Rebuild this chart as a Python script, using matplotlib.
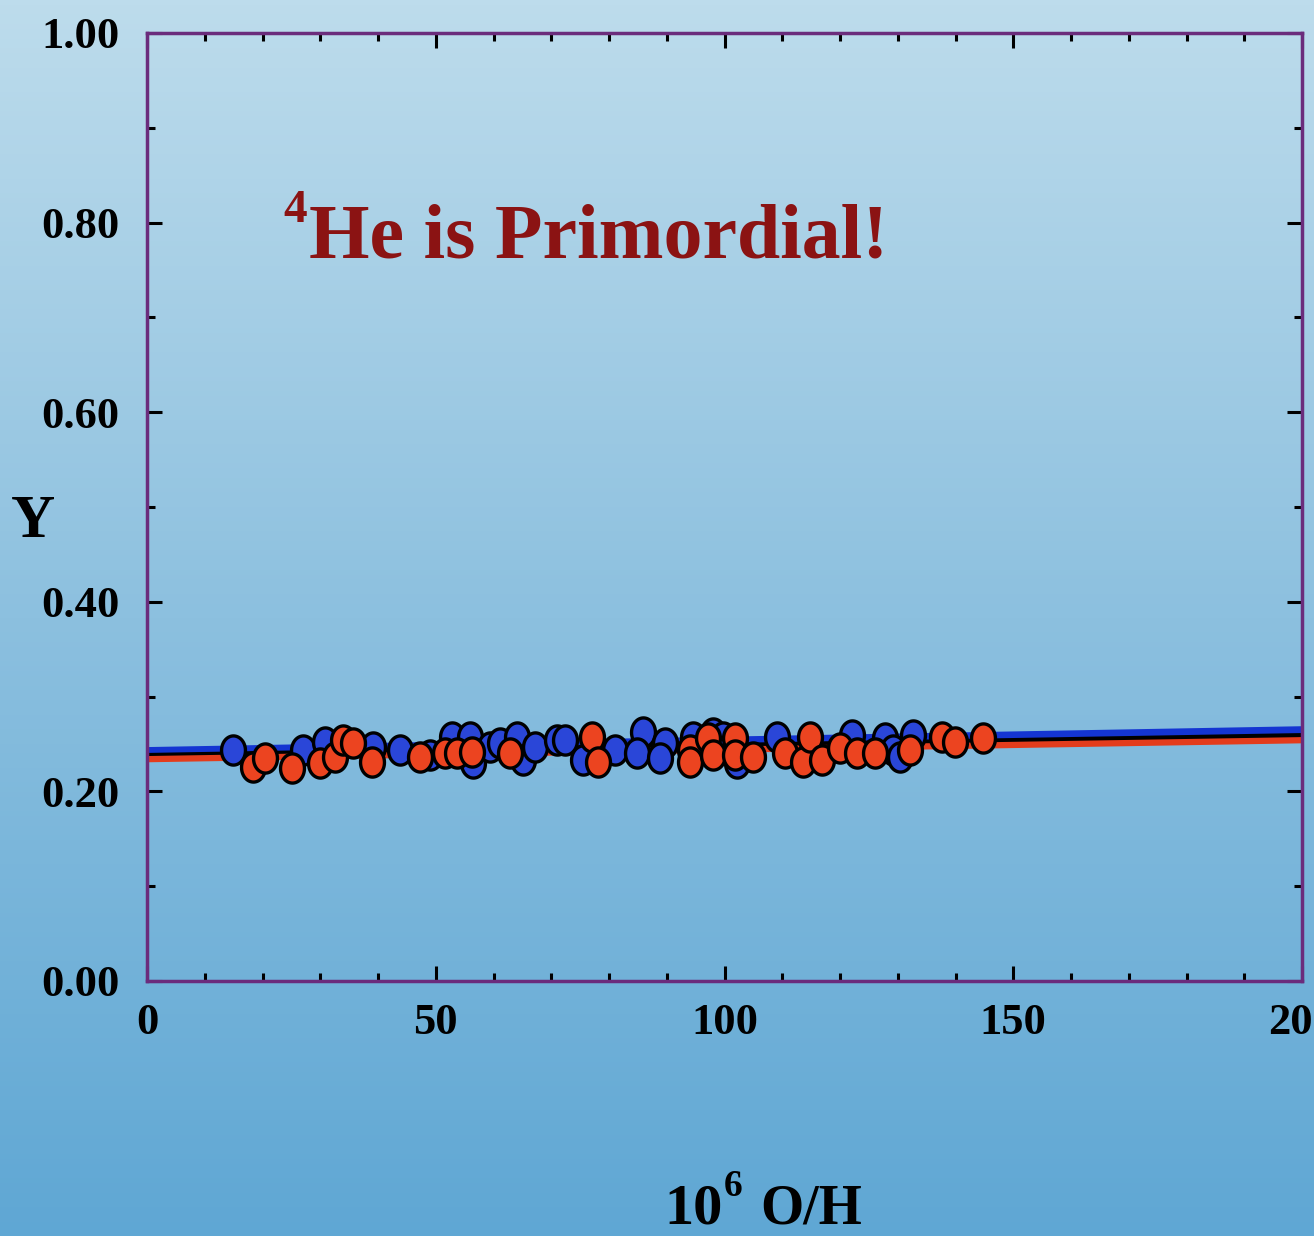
import numpy as np
import matplotlib
matplotlib.use("Agg")
import matplotlib.pyplot as plt
from matplotlib.colors import LinearSegmentedColormap
from matplotlib.path import Path

# ---------------- data ----------------
red_x = [18.4, 20.4, 25.1, 29.9, 32.6, 33.9, 35.7, 39.0, 47.3, 51.6, 53.7, 56.3,
         62.9, 77.1, 78.1, 94.0, 94.0, 97.1, 98.0, 101.8, 101.8, 104.9, 110.5,
         113.6, 114.8, 116.9, 120.0, 122.9, 126.1, 132.1, 137.7, 139.9, 144.8]
red_y = [0.226, 0.235, 0.225, 0.230, 0.236, 0.254, 0.251, 0.231, 0.236, 0.241,
         0.241, 0.242, 0.241, 0.257, 0.231, 0.244, 0.231, 0.256, 0.238, 0.256,
         0.238, 0.236, 0.241, 0.231, 0.257, 0.233, 0.246, 0.241, 0.241, 0.244,
         0.257, 0.252, 0.256]

blue_x = [14.9, 27.0, 30.8, 39.1, 43.8, 49.0, 52.8, 55.9, 56.5, 59.4, 61.1, 64.1,
          65.1, 67.2, 71.0, 72.4, 75.5, 81.0, 85.9, 84.8, 89.7, 88.8, 94.5, 98.0,
          99.7, 102.2, 109.1, 122.1, 127.8, 129.2, 132.6, 130.4]
blue_y = [0.244, 0.244, 0.252, 0.247, 0.244, 0.238, 0.257, 0.257, 0.230, 0.247,
          0.251, 0.257, 0.233, 0.247, 0.254, 0.254, 0.233, 0.244, 0.263, 0.241,
          0.251, 0.235, 0.257, 0.262, 0.257, 0.230, 0.257, 0.259, 0.256, 0.244,
          0.259, 0.236]

fit_x = [0, 200]
blue_fit = [0.242, 0.264]
black_fit = [0.238, 0.259]
red_fit = [0.234, 0.254]

x_ticks = [0, 50, 100, 150, 200]
x_ticklabels = ["0", "50", "100", "150", "200"]
y_ticks = [0.0, 0.2, 0.4, 0.6, 0.8, 1.0]
y_ticklabels = ["0.00", "0.20", "0.40", "0.60", "0.80", "1.00"]

title_sup = "4"
title_main = "He is Primordial!"
ylabel = "Y"
xlabel_parts = ("10", "6", "O/H")

# ---------------- figure ----------------
W, H = 1314, 1236
fig = plt.figure(figsize=(W / 100, H / 100), dpi=100)
serif = "Liberation Serif"

# background gradient
bg = fig.add_axes([0, 0, 1, 1], zorder=-10)
cmap = LinearSegmentedColormap.from_list("bg", ["#bddcec", "#8cc0df", "#5fa7d4"])
grad = np.linspace(0, 1, 256).reshape(-1, 1)
bg.imshow(grad, aspect="auto", cmap=cmap, extent=[0, 1, 0, 1], origin="upper")
bg.axis("off")

left, right = 147 / W, 1302 / W
bottom, top = 1 - 981 / H, 1 - 33 / H
ax = fig.add_axes([left, bottom, right - left, top - bottom])
ax.set_facecolor("none")

# fit lines
ax.plot(fit_x, blue_fit, color="#1435d2", lw=6.5, solid_capstyle="butt", zorder=2)
ax.plot(fit_x, black_fit, color="black", lw=3.5, solid_capstyle="butt", zorder=2)
ax.plot(fit_x, red_fit, color="#e33c1c", lw=4.5, solid_capstyle="butt", zorder=2)

# slightly tall elliptical marker
t = np.linspace(0, 2 * np.pi, 60)
ell = Path(np.column_stack([0.82 * np.cos(t), np.sin(t)]), closed=True)

ax.plot(blue_x, blue_y, ls="none", marker=ell, ms=21, mfc="#2a46d8",
        mec="black", mew=2.4, zorder=3)
ax.plot(red_x, red_y, ls="none", marker=ell, ms=21, mfc="#ec4420",
        mec="black", mew=2.4, zorder=4)

ax.set_xlim(0, 200)
ax.set_ylim(0, 1)

for s in ax.spines.values():
    s.set_color("#6b2c7c")
    s.set_linewidth(2.5)

ax.set_xticks(x_ticks)
ax.set_xticklabels(x_ticklabels)
ax.set_yticks(y_ticks)
ax.set_yticklabels(y_ticklabels)
ax.set_xticks(np.arange(0, 201, 10), minor=True)
ax.set_yticks(np.arange(0, 1.01, 0.1), minor=True)
ax.tick_params(which="both", direction="in", top=True, right=True, color="black")
ax.tick_params(which="major", length=11, width=2.2)
ax.tick_params(which="minor", length=5.5, width=2.2)
ax.tick_params(axis="x", which="major", pad=16)
ax.tick_params(axis="y", which="major", pad=20)
for lab in ax.get_xticklabels() + ax.get_yticklabels():
    lab.set_fontfamily(serif)
    lab.set_fontweight("bold")
    lab.set_fontsize(32)
    lab.set_color("black")

# title
fig.text(283 / W, 1 - 222 / H, title_sup, fontfamily=serif, fontweight="bold",
         fontsize=34, color="#8b1313", ha="left", va="baseline")
fig.text(309 / W, 1 - 258 / H, title_main, fontfamily=serif, fontweight="bold",
         fontsize=56, color="#8b1313", ha="left", va="baseline")

# y label
fig.text(33 / W, 1 - 537 / H, ylabel, fontfamily=serif, fontweight="bold",
         fontsize=44, color="black", ha="center", va="baseline")

# x label
fig.text(664 / W, 1 - 1223 / H, xlabel_parts[0], fontfamily=serif, fontweight="bold",
         fontsize=42, color="black", ha="left", va="baseline")
fig.text(724 / W, 1 - 1196 / H, xlabel_parts[1], fontfamily=serif, fontweight="bold",
         fontsize=27, color="black", ha="left", va="baseline")
fig.text(760 / W, 1 - 1223 / H, xlabel_parts[2], fontfamily=serif, fontweight="bold",
         fontsize=40, color="black", ha="left", va="baseline")

fig.savefig("out.png", dpi=100)
